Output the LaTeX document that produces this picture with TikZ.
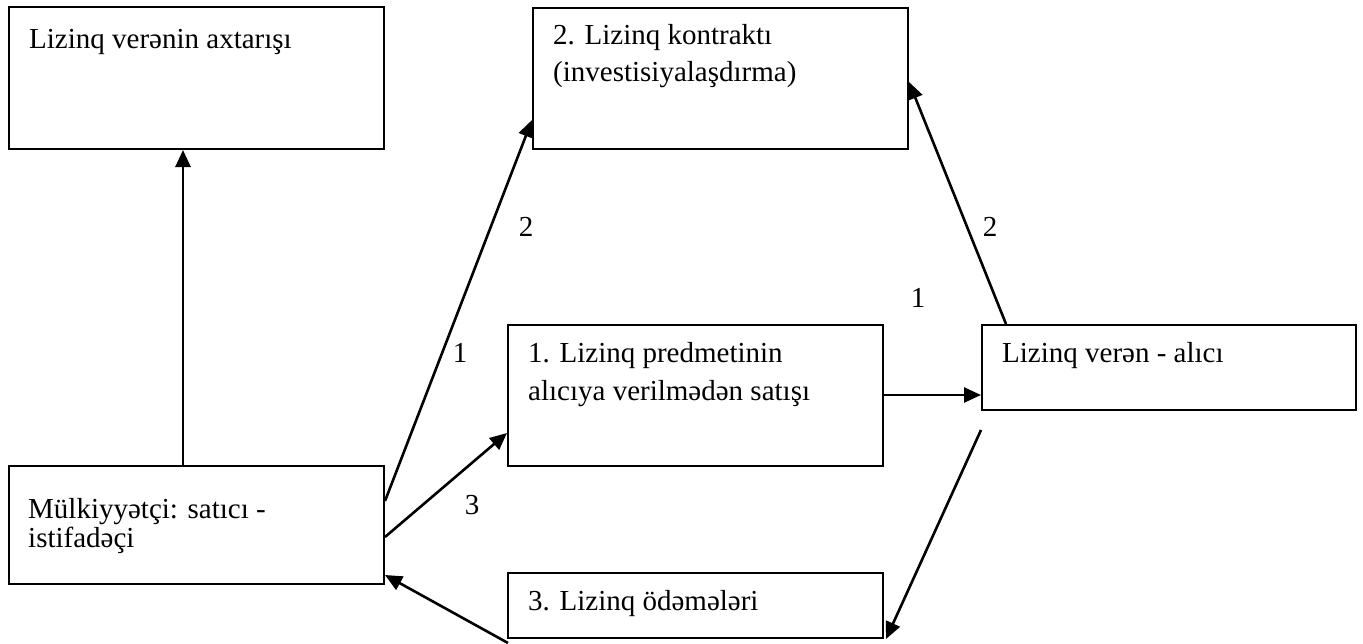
\documentclass[tikz,border=0pt]{standalone}
\usepackage{fontspec}
\setmainfont{Liberation Serif}
\usetikzlibrary{arrows.meta}
\begin{document}
\begin{tikzpicture}[x=1pt,y=-1pt,
  box/.style={draw, line width=2pt, inner sep=0pt, anchor=north west},
  txt/.style={anchor=base west, inner sep=0pt, font=\fontsize{29}{37}\selectfont},
  num/.style={inner sep=0pt, font=\fontsize{29}{37}\selectfont},
  link/.style={line width=2.6pt, -{Triangle[length=17pt,width=15pt]}}]
\useasboundingbox[fill=white] (0,0) rectangle (1363,643);

% boxes
\node[box, minimum width=375pt, minimum height=142pt] (A) at (8,6) {};
\node[box, minimum width=375pt, minimum height=141pt] (B) at (532,7) {};
\node[box, minimum width=375pt, minimum height=141pt] (C) at (507,324) {};
\node[box, minimum width=374pt, minimum height=85pt]  (D) at (981,324) {};
\node[box, minimum width=375pt, minimum height=118pt] (E) at (8,465) {};
\node[box, minimum width=375pt, minimum height=65pt]  (F) at (507,572) {};

% box texts
\node[txt] (A1) at (29,48)   {Lizinq verənin axtarışı};
\node[txt] (B1) at (553,44)  {2. Lizinq kontraktı};
\node[txt] (B2) at (553,81)  {(investisiyalaşdırma)};
\node[txt] (C1) at (528,362) {1. Lizinq predmetinin};
\node[txt] (C2) at (528,400) {alıcıya verilmədən satışı};
\node[txt] (D1) at (1002,362){Lizinq verən - alıcı};
\node[txt] (E1) at (28,518)  {Mülkiyyətçi: satıcı -};
\node[txt] (E2) at (28,547)  {istifadəçi};
\node[txt] (F1) at (528,610) {3. Lizinq ödəmələri};

% step numbers
\node[num] (n2a) at (526,227) {2};
\node[num] (n1a) at (460,353) {1};
\node[num] (n3)  at (472,505) {3};
\node[num] (n1b) at (918,298) {1};
\node[num] (n2b) at (990,227) {2};

% free ends
\coordinate (p) at (981,430);
\coordinate (q) at (508,643);

% connectors
\draw[link] ([xshift=175pt]E.north west) -- ([xshift=175pt]A.south west);
\draw[link] ([yshift=-36pt]E.north east) -- ([yshift=-113pt]B.north west);
\draw[link] ([yshift=-72pt]E.north east) -- ([yshift=-109pt]C.north west);
\draw[link] ([yshift=-71pt]C.north east) -- ([yshift=-71pt]D.north west);
\draw[link] ([xshift=25pt]D.north west) -- ([yshift=-75pt]B.north east);
\draw[link] (p) -- ([xshift=2pt]F.south east);
\draw[link] (q) -- ([yshift=10pt]E.south east);
\end{tikzpicture}
\end{document}
